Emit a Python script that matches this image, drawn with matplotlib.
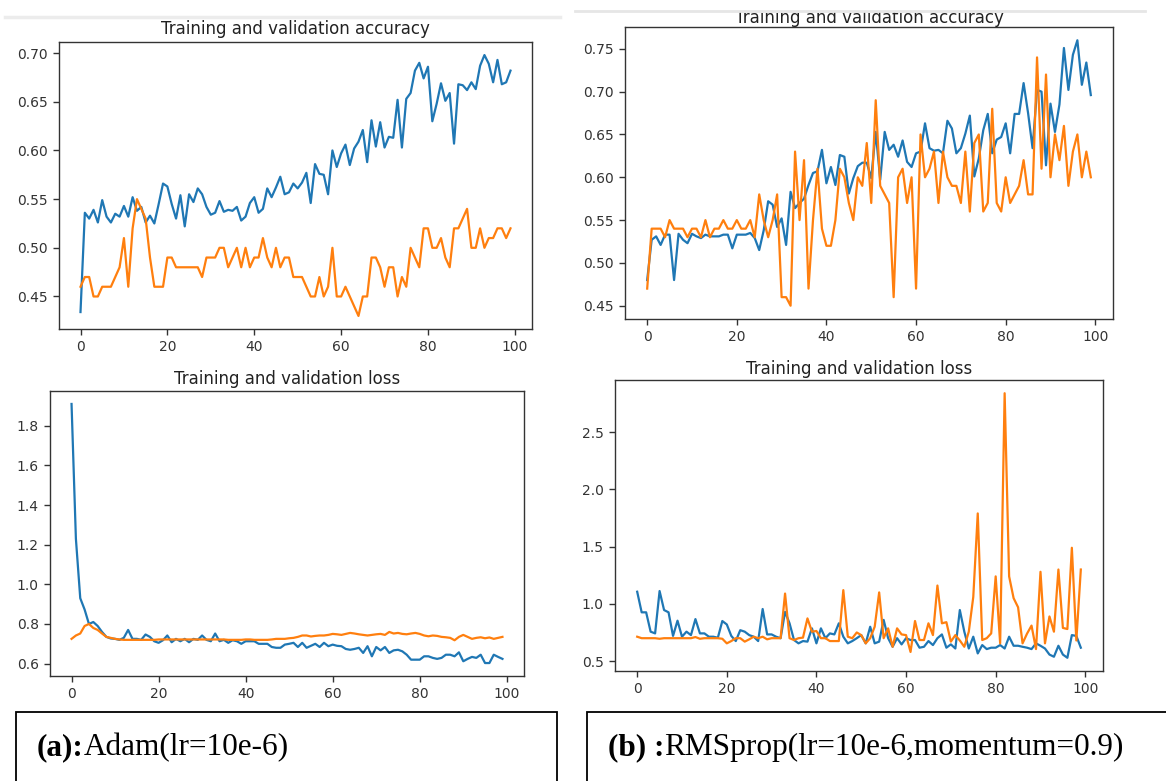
import matplotlib
matplotlib.use("Agg")
import matplotlib.pyplot as plt
from matplotlib.patches import Rectangle
from matplotlib.lines import Line2D

# ---- training histories (100 epochs each) ----
epochs = list(range(100))

adam_train_acc = [
    0.434, 0.536, 0.530, 0.539, 0.526, 0.549, 0.532, 0.526, 0.535, 0.532,
    0.543, 0.532, 0.552, 0.538, 0.542, 0.526, 0.533, 0.525, 0.545, 0.566,
    0.563, 0.545, 0.530, 0.554, 0.522, 0.555, 0.547, 0.561, 0.555, 0.542,
    0.534, 0.536, 0.548, 0.537, 0.539, 0.538, 0.542, 0.528, 0.532, 0.546,
    0.552, 0.536, 0.540, 0.561, 0.552, 0.562, 0.573, 0.555, 0.557, 0.566,
    0.561, 0.567, 0.577, 0.546, 0.586, 0.576, 0.575, 0.555, 0.600, 0.583,
    0.597, 0.606, 0.585, 0.602, 0.609, 0.621, 0.588, 0.631, 0.604, 0.629,
    0.603, 0.614, 0.613, 0.652, 0.603, 0.653, 0.659, 0.682, 0.690, 0.674,
    0.686, 0.630, 0.648, 0.669, 0.651, 0.659, 0.607, 0.668, 0.667, 0.662,
    0.670, 0.663, 0.687, 0.698, 0.689, 0.670, 0.693, 0.668, 0.670, 0.682,
]
adam_val_acc = [
    0.46, 0.47, 0.47, 0.45, 0.45, 0.46, 0.46, 0.46, 0.47, 0.48,
    0.51, 0.46, 0.52, 0.55, 0.54, 0.53, 0.49, 0.46, 0.46, 0.46,
    0.49, 0.49, 0.48, 0.48, 0.48, 0.48, 0.48, 0.48, 0.47, 0.49,
    0.49, 0.49, 0.50, 0.50, 0.48, 0.49, 0.50, 0.48, 0.50, 0.48,
    0.49, 0.49, 0.51, 0.49, 0.48, 0.50, 0.48, 0.49, 0.49, 0.47,
    0.47, 0.47, 0.46, 0.45, 0.45, 0.47, 0.45, 0.46, 0.50, 0.45,
    0.45, 0.46, 0.45, 0.44, 0.43, 0.45, 0.45, 0.49, 0.49, 0.48,
    0.46, 0.48, 0.48, 0.45, 0.47, 0.46, 0.50, 0.49, 0.48, 0.52,
    0.52, 0.50, 0.50, 0.51, 0.49, 0.48, 0.52, 0.52, 0.53, 0.54,
    0.50, 0.50, 0.52, 0.50, 0.51, 0.51, 0.52, 0.52, 0.51, 0.52,
]
adam_train_loss = [
    1.910, 1.230, 0.930, 0.873, 0.800, 0.810, 0.790, 0.760, 0.735, 0.727,
    0.725, 0.720, 0.730, 0.770, 0.725, 0.725, 0.720, 0.747, 0.735, 0.713,
    0.705, 0.718, 0.742, 0.708, 0.725, 0.713, 0.725, 0.708, 0.725, 0.720,
    0.742, 0.720, 0.713, 0.752, 0.713, 0.720, 0.705, 0.718, 0.713, 0.700,
    0.713, 0.713, 0.713, 0.700, 0.700, 0.700, 0.684, 0.680, 0.680, 0.696,
    0.700, 0.705, 0.684, 0.705, 0.680, 0.690, 0.700, 0.684, 0.705, 0.688,
    0.696, 0.690, 0.688, 0.674, 0.670, 0.674, 0.680, 0.654, 0.688, 0.637,
    0.684, 0.667, 0.684, 0.654, 0.667, 0.670, 0.662, 0.645, 0.620, 0.620,
    0.620, 0.637, 0.637, 0.629, 0.624, 0.629, 0.645, 0.645, 0.637, 0.657,
    0.612, 0.624, 0.634, 0.629, 0.645, 0.603, 0.603, 0.645, 0.634, 0.624,
]
adam_val_loss = [
    0.725, 0.742, 0.752, 0.790, 0.800, 0.780, 0.770, 0.752, 0.735, 0.730,
    0.725, 0.722, 0.720, 0.720, 0.720, 0.720, 0.720, 0.720, 0.720, 0.720,
    0.722, 0.722, 0.722, 0.722, 0.722, 0.722, 0.722, 0.722, 0.722, 0.722,
    0.722, 0.722, 0.722, 0.722, 0.722, 0.722, 0.720, 0.720, 0.720, 0.720,
    0.722, 0.722, 0.720, 0.720, 0.720, 0.720, 0.722, 0.725, 0.725, 0.725,
    0.728, 0.730, 0.735, 0.742, 0.742, 0.737, 0.740, 0.742, 0.742, 0.745,
    0.750, 0.748, 0.745, 0.750, 0.755, 0.752, 0.748, 0.745, 0.742, 0.745,
    0.748, 0.750, 0.745, 0.760, 0.752, 0.755, 0.750, 0.748, 0.752, 0.755,
    0.750, 0.742, 0.738, 0.742, 0.740, 0.735, 0.733, 0.730, 0.718, 0.735,
    0.745, 0.735, 0.725, 0.730, 0.733, 0.728, 0.732, 0.725, 0.730, 0.735,
]

rms_train_acc = [
    0.480, 0.527, 0.531, 0.521, 0.533, 0.533, 0.480, 0.534, 0.527, 0.523,
    0.534, 0.531, 0.529, 0.533, 0.531, 0.531, 0.531, 0.533, 0.533, 0.517,
    0.533, 0.533, 0.533, 0.535, 0.529, 0.515, 0.538, 0.572, 0.568, 0.542,
    0.552, 0.521, 0.583, 0.564, 0.570, 0.575, 0.591, 0.605, 0.607, 0.632,
    0.593, 0.612, 0.591, 0.626, 0.624, 0.581, 0.599, 0.613, 0.617, 0.617,
    0.599, 0.653, 0.597, 0.653, 0.632, 0.638, 0.624, 0.643, 0.618, 0.612,
    0.628, 0.630, 0.663, 0.634, 0.631, 0.632, 0.628, 0.666, 0.657, 0.628,
    0.634, 0.651, 0.672, 0.601, 0.622, 0.655, 0.674, 0.628, 0.644, 0.647,
    0.663, 0.628, 0.674, 0.674, 0.710, 0.675, 0.634, 0.702, 0.700, 0.614,
    0.686, 0.653, 0.685, 0.751, 0.702, 0.743, 0.760, 0.708, 0.734, 0.696,
]
rms_val_acc = [
    0.47, 0.54, 0.54, 0.54, 0.53, 0.55, 0.54, 0.54, 0.54, 0.53,
    0.54, 0.54, 0.53, 0.55, 0.53, 0.54, 0.54, 0.55, 0.54, 0.54,
    0.55, 0.54, 0.54, 0.55, 0.53, 0.58, 0.55, 0.53, 0.55, 0.58,
    0.46, 0.46, 0.45, 0.63, 0.55, 0.62, 0.47, 0.55, 0.61, 0.54,
    0.52, 0.52, 0.55, 0.61, 0.60, 0.57, 0.55, 0.60, 0.59, 0.64,
    0.57, 0.69, 0.59, 0.58, 0.57, 0.46, 0.60, 0.61, 0.57, 0.60,
    0.47, 0.65, 0.60, 0.61, 0.63, 0.57, 0.63, 0.60, 0.59, 0.59,
    0.57, 0.63, 0.56, 0.64, 0.65, 0.56, 0.57, 0.68, 0.57, 0.56,
    0.60, 0.57, 0.58, 0.59, 0.62, 0.58, 0.58, 0.74, 0.61, 0.72,
    0.60, 0.65, 0.62, 0.66, 0.59, 0.63, 0.65, 0.60, 0.63, 0.60,
]
rms_train_loss = [
    1.106, 0.926, 0.926, 0.757, 0.742, 1.112, 0.946, 0.926, 0.720, 0.853,
    0.713, 0.757, 0.727, 0.867, 0.742, 0.742, 0.713, 0.713, 0.704, 0.850,
    0.820, 0.720, 0.675, 0.770, 0.757, 0.727, 0.713, 0.675, 0.955, 0.733,
    0.733, 0.713, 0.700, 0.930, 0.830, 0.684, 0.655, 0.675, 0.670, 0.786,
    0.655, 0.786, 0.700, 0.742, 0.733, 0.830, 0.713, 0.655, 0.675, 0.700,
    0.727, 0.655, 0.800, 0.655, 0.670, 0.860, 0.700, 0.625, 0.700, 0.646,
    0.700, 0.684, 0.684, 0.617, 0.625, 0.675, 0.640, 0.700, 0.733, 0.617,
    0.646, 0.610, 0.946, 0.757, 0.610, 0.713, 0.567, 0.640, 0.605, 0.617,
    0.617, 0.640, 0.610, 0.713, 0.634, 0.634, 0.625, 0.617, 0.605, 0.655,
    0.634, 0.610, 0.557, 0.538, 0.634, 0.557, 0.529, 0.727, 0.720, 0.617,
]
rms_val_loss = [
    0.713, 0.700, 0.700, 0.700, 0.700, 0.695, 0.700, 0.700, 0.700, 0.700,
    0.700, 0.700, 0.700, 0.710, 0.695, 0.700, 0.700, 0.700, 0.700, 0.695,
    0.655, 0.675, 0.700, 0.700, 0.670, 0.690, 0.713, 0.700, 0.713, 0.690,
    0.700, 0.700, 0.700, 1.090, 0.700, 0.684, 0.700, 0.705, 0.873, 0.757,
    0.763, 0.700, 0.700, 0.675, 0.675, 0.675, 1.120, 0.713, 0.700, 0.750,
    0.727, 0.655, 0.700, 0.800, 1.100, 0.700, 0.786, 0.625, 0.786, 0.733,
    0.727, 0.580, 0.850, 0.684, 0.684, 0.830, 0.727, 1.160, 0.830, 0.840,
    0.670, 0.727, 0.680, 0.625, 0.757, 1.060, 1.790, 0.684, 0.700, 0.742,
    1.240, 0.655, 2.840, 1.240, 1.050, 0.970, 0.655, 0.740, 0.810, 0.605,
    1.280, 0.655, 0.890, 0.757, 1.300, 0.790, 0.780, 1.490, 0.680, 1.300,
]

acc_title = "Training and validation accuracy"
loss_title = "Training and validation loss"
caption_a_bold, caption_a_rest = "(a):", "Adam(lr=10e-6)"
caption_b_bold, caption_b_rest = "(b) :", "RMSprop(lr=10e-6,momentum=0.9)"

# ---- figure geometry (pixels) ----
W, H = 1166, 781
fig = plt.figure(figsize=(W / 100, H / 100), dpi=100)
fig.patch.set_facecolor("white")

BLUE = "#1f77b4"
ORANGE = "#ff7f0e"
INK = "#333333"


def px_axes(x0, y0, x1, y1):
    """Axes from a pixel box measured from the top-left corner."""
    return fig.add_axes([x0 / W, 1 - y1 / H, (x1 - x0) / W, (y1 - y0) / H])


def style(ax):
    for s in ax.spines.values():
        s.set_color(INK)
        s.set_linewidth(1.0)
    ax.tick_params(colors=INK, labelcolor=INK, labelsize=10, width=1.0, length=4.5)
    ax.set_xticks([0, 20, 40, 60, 80, 100])


panels = [
    # (box, train, val, title, title pad)
    ((59, 42, 532, 329), adam_train_acc, adam_val_acc, acc_title, 6),
    ((625, 27, 1113, 319), rms_train_acc, rms_val_acc, acc_title, 3),
    ((50, 391, 524, 676), adam_train_loss, adam_val_loss, loss_title, 5),
    ((615, 380, 1103, 671), rms_train_loss, rms_val_loss, loss_title, 4),
]

for box, train, val, title, pad in panels:
    ax = px_axes(*box)
    ax.plot(epochs, train, color=BLUE, lw=1.6)
    ax.plot(epochs, val, color=ORANGE, lw=1.6)
    ax.set_title(title, fontsize=12, color="#222222", pad=pad)
    style(ax)

# screenshot edges above the accuracy panels
fig.add_artist(Rectangle((570 / W, 1 - 11 / H), (W - 570) / W, 11 / H,
                         transform=fig.transFigure, facecolor="white",
                         edgecolor="none", zorder=20))
fig.add_artist(Line2D([575 / W, 1145 / W], [1 - 11 / H, 1 - 11 / H],
                      transform=fig.transFigure, color="#e6e6e6", lw=2, zorder=21))
fig.add_artist(Line2D([5 / W, 560 / W], [1 - 17 / H, 1 - 17 / H],
                      transform=fig.transFigure, color="#ececec", lw=2.5, zorder=-1))

# caption boxes
for x0, x1 in [(16, 557), (587, 1170)]:
    fig.add_artist(Rectangle((x0 / W, -0.05), (x1 - x0) / W, 0.05 + 1 - 712 / H,
                             transform=fig.transFigure, facecolor="none",
                             edgecolor="black", lw=1.3, zorder=5))


def caption(x, y, bold, rest, size):
    t = fig.text(x / W, 1 - y / H, bold, fontsize=size, fontweight="bold",
                 family="Liberation Serif", va="baseline", ha="left", color="black")
    fig.canvas.draw()
    bb = t.get_window_extent()
    fig.text(bb.x1 / W, 1 - y / H, rest, fontsize=size,
             family="Liberation Serif", va="baseline", ha="left", color="black")


caption(37, 755, caption_a_bold, caption_a_rest, 22.5)
caption(608, 755, caption_b_bold, caption_b_rest, 22.5)

fig.savefig("out.png", dpi=100, facecolor="white")
